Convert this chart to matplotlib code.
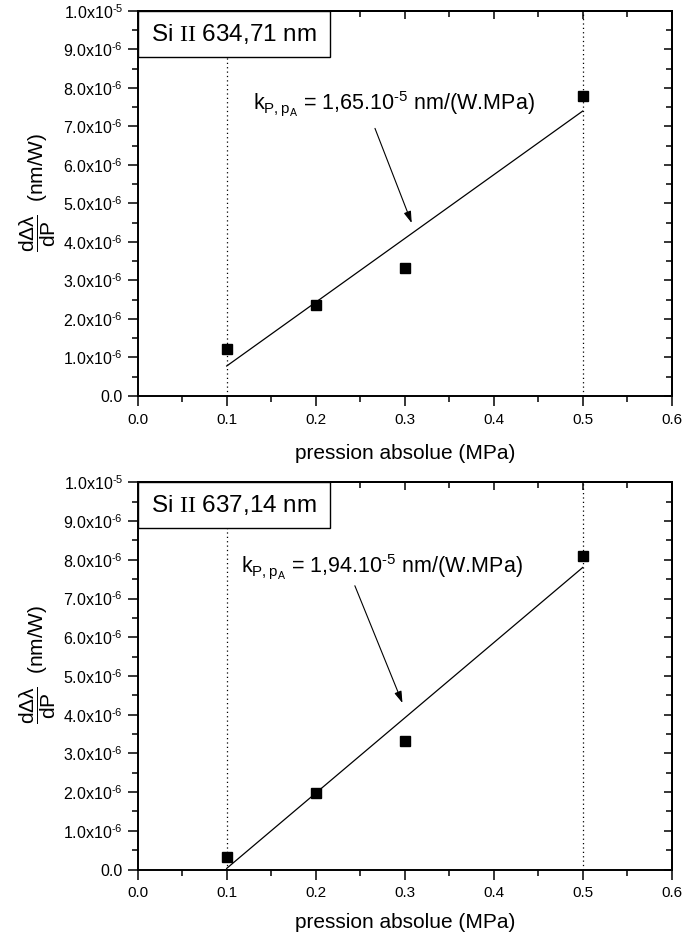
import numpy as np
import matplotlib
matplotlib.use('Agg')
import matplotlib.pyplot as plt
from matplotlib.ticker import MultipleLocator, FuncFormatter, NullFormatter, FormatStrFormatter
from matplotlib.patches import Rectangle

plt.rcParams['font.family'] = ['Liberation Sans', 'DejaVu Sans']
plt.rcParams['mathtext.fontset'] = 'custom'
plt.rcParams['mathtext.rm'] = 'Liberation Sans'
plt.rcParams['mathtext.it'] = 'Liberation Sans:italic'
plt.rcParams['mathtext.bf'] = 'Liberation Sans:bold'
plt.rcParams['mathtext.sf'] = 'Liberation Sans'
plt.rcParams['mathtext.tt'] = 'Liberation Serif'  # used for the roman "II"
plt.rcParams['mathtext.default'] = 'regular'

# data
pressure = [0.1, 0.2, 0.3, 0.5]            # MPa
slope_634 = [1.21e-6, 2.37e-6, 3.32e-6, 7.80e-6]
slope_637 = [0.32e-6, 1.99e-6, 3.31e-6, 8.10e-6]
line_names = ['Si $\\mathtt{II}$ 634,71 nm', 'Si $\\mathtt{II}$ 637,14 nm']
k_values = ['1,65', '1,94']
guides = [0.1, 0.5]


def sci_fmt(v, pos):
    # Origin style "1.0x10^-6" labels
    if abs(v) < 1e-12:
        return '0.0'
    if v < 0:
        return ''
    e = int(np.floor(np.log10(v) + 1e-9))
    m = v / 10 ** e
    return f'{m:.1f}x10$^{{\\text{{{e}}}}}$'


def draw_panel(ax, y, name, k, text_xy, arrow_from, arrow_to, xlabel_y):
    for g in guides:
        ax.axvline(g, color='k', ls=(0, (1, 2.5)), lw=0.9, zorder=1)

    # linear fit between first and last pressure
    a, b = np.polyfit(pressure, y, 1)
    xf = np.array([pressure[0], pressure[-1]])
    ax.plot(xf, a * xf + b, color='k', lw=0.9, zorder=2)
    ax.plot(pressure, y, 's', color='k', ms=6.7, zorder=4, clip_on=False)

    ax.set_xlim(0, 0.6)
    ax.set_ylim(0, 1e-5)
    ax.xaxis.set_major_locator(MultipleLocator(0.1))
    ax.xaxis.set_minor_locator(MultipleLocator(0.05))
    ax.yaxis.set_major_locator(MultipleLocator(1e-6))
    ax.yaxis.set_minor_locator(MultipleLocator(0.5e-6))
    ax.xaxis.set_major_formatter(FormatStrFormatter('%.1f'))
    ax.yaxis.set_major_formatter(FuncFormatter(sci_fmt))
    ax.tick_params(which='major', direction='out', length=7, width=1.1, labelsize=11)
    ax.tick_params(axis='y', which='major', labelsize=11.5, pad=3.5)
    ax.tick_params(which='minor', direction='out', length=4.5, width=1.1)
    ax.tick_params(axis='x', which='major', pad=5)
    for s in ax.spines.values():
        s.set_linewidth(1.4)

    # inward ticks on top and right
    top = ax.secondary_xaxis('top')
    top.xaxis.set_major_locator(MultipleLocator(0.1))
    top.xaxis.set_minor_locator(MultipleLocator(0.05))
    top.xaxis.set_major_formatter(NullFormatter())
    top.tick_params(which='major', direction='in', length=5.5, width=1.1)
    top.tick_params(which='minor', direction='in', length=4, width=1.1)
    top.spines['top'].set_linewidth(1.4)
    right = ax.secondary_yaxis('right')
    right.yaxis.set_major_locator(MultipleLocator(1e-6))
    right.yaxis.set_minor_locator(MultipleLocator(0.5e-6))
    right.yaxis.set_major_formatter(NullFormatter())
    right.tick_params(which='major', direction='in', length=5.5, width=1.1)
    right.tick_params(which='minor', direction='in', length=4, width=1.1)
    right.spines['right'].set_linewidth(1.4)

    ax.set_xlabel('pression absolue (MPa)', fontsize=15)
    ax.xaxis.set_label_coords(0.5, xlabel_y)
    ax.set_ylabel(r'$\dfrac{d\Delta\lambda}{dP}$  (nm/W)', fontsize=15)
    ax.yaxis.set_label_coords(-0.149, 0.53)

    # title box in the upper left corner
    ax.add_patch(Rectangle((0, 1 - 0.119), 0.361, 0.119, transform=ax.transAxes,
                           facecolor='white', edgecolor='k', lw=1.0, zorder=5))
    ax.text(0.1805, 1 - 0.0595, name, transform=ax.transAxes, fontsize=17.5,
            ha='center', va='center', zorder=6)

    ax.text(text_xy[0], text_xy[1],
            'k$_{P,p_{A}}$ = ' + k + '.10$^{\\text{-5}}$ nm/(W.MPa)',
            fontsize=15.5, va='baseline', zorder=6)
    ax.annotate('', xy=arrow_to, xytext=arrow_from,
                arrowprops=dict(arrowstyle='-|>,head_length=0.7,head_width=0.22',
                                color='k', lw=0.8, shrinkA=0, shrinkB=0))


fig = plt.figure(figsize=(6.85, 9.35), dpi=100)
ax1 = fig.add_axes([0.201, 0.5765, 0.7796, 0.4118])
ax2 = fig.add_axes([0.201, 0.070, 0.7796, 0.4141])

draw_panel(ax1, slope_634, line_names[0], k_values[0],
           (0.129, 7.43e-6), (0.2666, 6.95e-6), (0.3079, 4.49e-6), -0.124)
draw_panel(ax2, slope_637, line_names[1], k_values[1],
           (0.1157, 7.68e-6), (0.244, 7.33e-6), (0.2975, 4.30e-6), -0.112)

fig.savefig('out.png', dpi=100)
